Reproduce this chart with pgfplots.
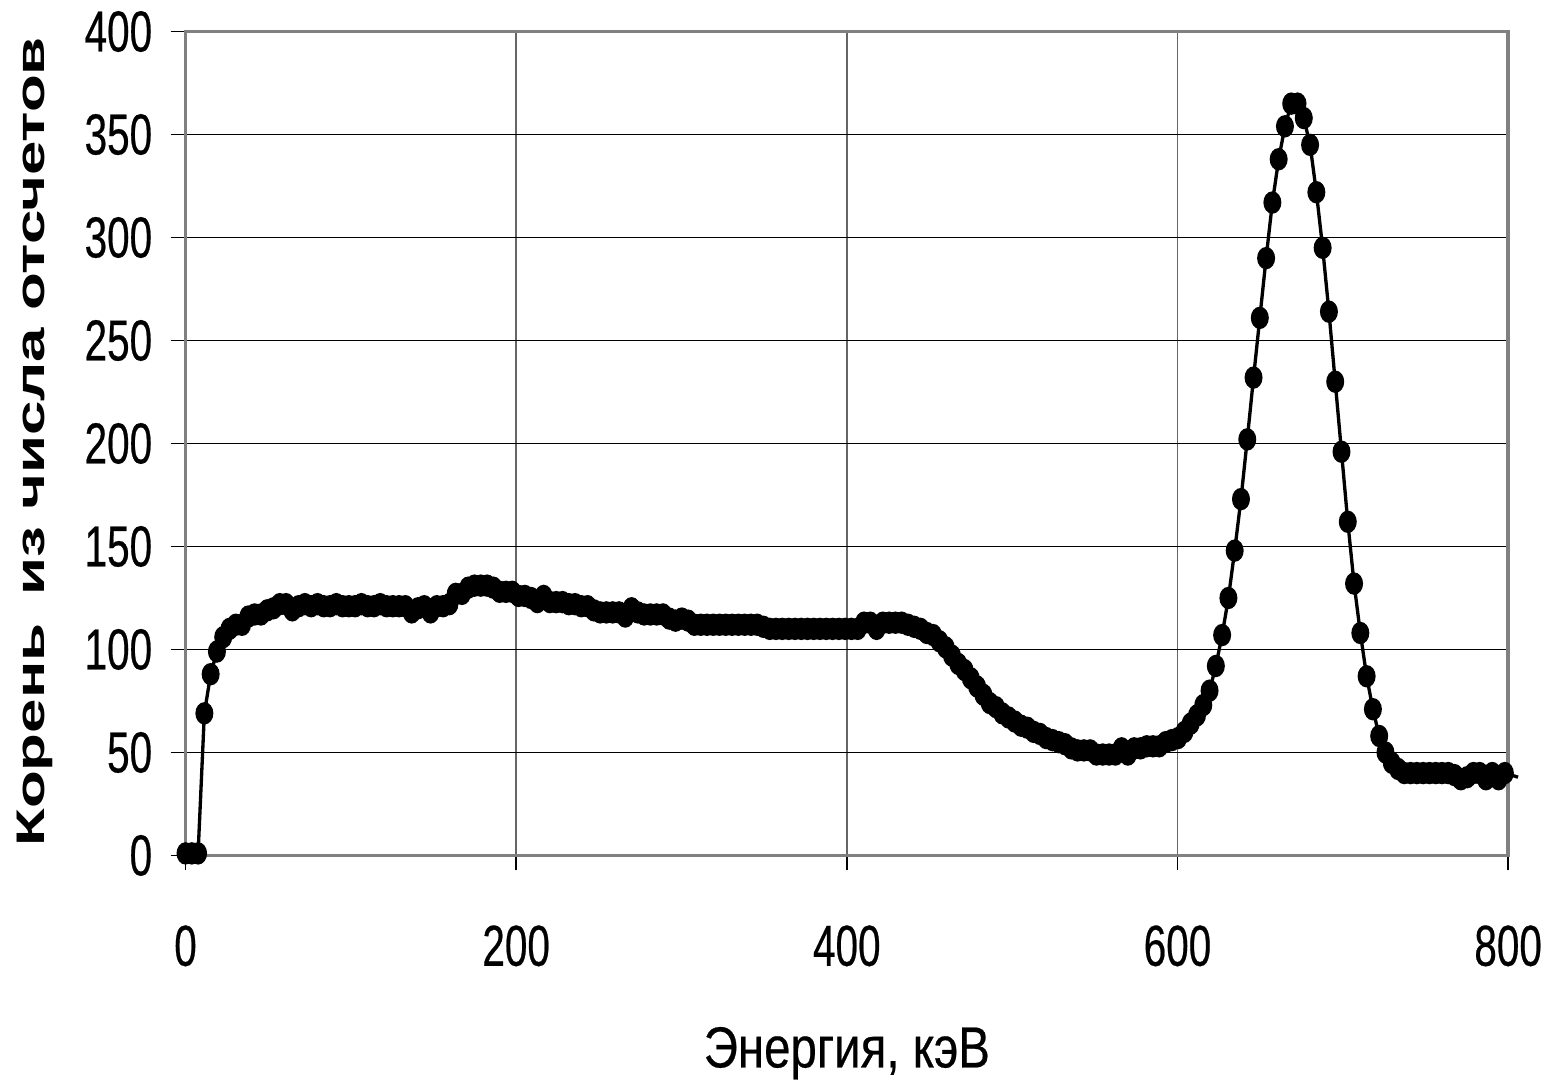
\documentclass[border=0pt]{standalone}
\usepackage{fontspec}
\setmainfont{Liberation Sans}
\newfontfamily\tickfont{Liberation Sans}[FakeStretch=0.70, FakeBold=0.4]
\newfontfamily\xlabfont{Liberation Sans}[FakeStretch=0.82, FakeBold=0.4]
\newfontfamily\ylabfont{Liberation Sans}[FakeStretch=1.55]
\usepackage{pgfplots}
\pgfplotsset{compat=1.18}

\pgfplotstableread{
E V
0 1
3.8 1
7.6 1
11.4 69
15.2 88
19 99
22.8 106
26.6 110
30.4 112
34.2 112
38 116
41.8 117
45.6 117
49.4 119
53.2 120
57 122
60.8 122
64.6 119
68.4 121
72.2 122
76 121
79.8 122
83.6 121
87.4 121
91.2 122
95 121
98.8 121
102.6 121
106.4 122
110.2 121
114 121
117.8 122
121.6 121
125.4 121
129.2 121
133 121
136.8 118
140.6 120
144.4 121
148.2 118
152 121
155.8 121
159.6 122
163.4 127
167.2 127
171 130
174.8 131
178.6 131
182.4 131
186.2 130
190 128
193.8 128
197.6 128
201.4 126
205.2 126
209 125
212.8 123
216.6 126
220.4 123
224.2 123
228 123
231.8 122
235.6 122
239.4 121
243.2 121
247 119
250.8 118
254.6 118
258.4 118
262.2 118
266 116
269.8 120
273.6 118
277.4 117
281.2 117
285 117
288.8 117
292.6 115
296.4 114
300.2 115
304 114
307.8 112
311.6 112
315.4 112
319.2 112
323 112
326.8 112
330.6 112
334.4 112
338.2 112
342 112
345.8 112
349.6 111
353.4 110
357.2 110
361 110
364.8 110
368.6 110
372.4 110
376.2 110
380 110
383.8 110
387.6 110
391.4 110
395.2 110
399 110
402.8 110
406.6 110
410.4 113
414.2 113
418 110
421.8 113
425.6 113
429.4 113
433.2 113
437 112
440.8 111
444.6 110
448.4 108
452.2 107
456 104
459.8 101
463.6 97
467.4 93
471.2 90
475 86
478.8 82
482.6 78
486.4 74
490.2 72
494 69
497.8 67
501.6 65
505.4 63
509.2 62
513 60
516.8 59
520.6 57
524.4 56
528.2 55
532 54
535.8 52
539.6 51
543.4 51
547.2 51
551 49
554.8 49
558.6 49
562.4 49
566.2 52
570 49
573.8 52
577.6 52
581.4 53
585.2 53
589 53
592.8 55
596.6 56
600.4 57
604.2 60
608 64
611.8 68
615.6 73
619.4 80
623.2 92
627 107
630.8 125
634.6 148
638.4 173
642.2 202
646 232
649.8 261
653.6 290
657.4 317
661.2 338
665 354
668.8 365
672.6 365
676.4 358
680.2 345
684 322
687.8 295
691.6 264
695.4 230
699.2 196
703 162
706.8 132
710.6 108
714.4 87
718.2 71
722 58
725.8 50
729.6 45
733.4 42
737.2 40
741 40
744.8 40
748.6 40
752.4 40
756.2 40
760 40
763.8 40
767.6 39
771.4 37
775.2 38
779 40
782.8 40
786.6 37
790.4 40
794.2 37
798 40
}\spectrum

\begin{document}
\begin{tikzpicture}
\begin{axis}[
  scale only axis,
  width=397.8pt, height=247.8pt,
  xmin=0, xmax=800, ymin=0, ymax=400,
  xtick={0,200,...,800},
  ytick={0,50,...,400},
  xtick pos=bottom, ytick pos=left,
  clip=false,
  grid=major,
  x grid style={gray!80!black, line width=0.5pt},
  y grid style={black, line width=0.5pt},
  axis line style={gray, line width=1pt},
  tick style={black, line width=0.5pt},
  tick align=outside,
  major tick length=4.5pt,
  ticklabel style={font=\tickfont\fontsize{17.4}{20}\selectfont},
  /pgf/number format/assume math mode=true,
  xticklabel style={yshift=-13pt},
  yticklabel style={xshift=-2pt},
  xlabel={\xlabfont\fontsize{17.4}{20}\selectfont Энергия, кэВ},
  ylabel={\ylabfont\bfseries\fontsize{12}{14}\selectfont Корень\hspace{0.7em}из числа отсчетов},
  xlabel style={at={(axis description cs:0.5,-0.24)}, anchor=center},
  ylabel style={at={(axis description cs:-0.1139,0.502)}, anchor=center},
]
\addplot[black, line width=1pt, mark=*, mark size=2.2pt,
  mark options={yscale=1.3, fill=black, solid}] table[x=E, y=V] {\spectrum};
\addplot[black, line width=1pt, no marks] coordinates {(798,40) (806,38)};
\end{axis}
\path (current axis.south west) ++(-55.8pt,-70.5pt) coordinate (bbA);
\path (current axis.north east) ++(12.3pt,9pt) coordinate (bbB);
\path (bbA) rectangle (bbB);
\end{tikzpicture}
\end{document}
